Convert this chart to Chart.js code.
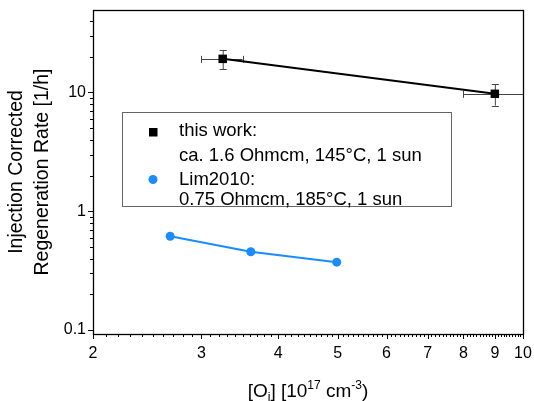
<!DOCTYPE html>
<html>
<head>
<meta charset="utf-8">
<script src="https://cdn.jsdelivr.net/npm/chart.js@4/dist/chart.umd.min.js"></script>
<style>
html,body{margin:0;padding:0;background:#fff;}
#wrap{width:534px;height:401px;position:relative;}
</style>
</head>
<body>
<div id="wrap"><canvas id="c"></canvas></div>
<script>
// ---- data ----
const thisWorkX = [3.25, 9.0];
const thisWorkY = [19.2, 9.75];
const thisWorkXErr = [0.25, 1.0];
const thisWorkYErr = [3.5, 2.0];
const limX = [2.67, 3.61, 4.98];
const limY = [0.616, 0.456, 0.373];
const xTickLabels = [2, 3, 4, 5, 6, 7, 8, 9, 10];
const yTickLabels = [0.1, 1, 10];
const legendLines = ['this work:', 'ca. 1.6 Ohmcm, 145°C, 1 sun', 'Lim2010:', '0.75 Ohmcm, 185°C, 1 sun'];
const yTitleLines = ['Injection Corrected', 'Regeneration Rate [1/h]'];
const xTitleParts = [['[O', 0], ['i', -1], ['] [10', 0], ['17', 1], [' cm', 0], ['-3', 1], [')', 0]];

const FONT = '"Liberation Sans", Arial, sans-serif';
const BLUE = '#1a8cff';

function near(v, list) { return list.some(t => Math.abs(v - t) / t < 1e-6); }
function zeroPad(s) { s.paddingTop = 0; s.paddingBottom = 0; s.paddingLeft = 0; s.paddingRight = 0; }

const decor = {
  id: 'decor',
  beforeDatasetsDraw(chart) {
    const ctx = chart.ctx, xs = chart.scales.x, ys = chart.scales.y;
    ctx.save();
    ctx.strokeStyle = '#444';
    ctx.lineWidth = 1;
    for (let i = 0; i < thisWorkX.length; i++) {
      const px = xs.getPixelForValue(thisWorkX[i]);
      const py = ys.getPixelForValue(thisWorkY[i]);
      const y1 = ys.getPixelForValue(thisWorkY[i] + thisWorkYErr[i]);
      const y2 = ys.getPixelForValue(thisWorkY[i] - thisWorkYErr[i]);
      const x1 = xs.getPixelForValue(thisWorkX[i] - thisWorkXErr[i]);
      const x2 = xs.getPixelForValue(thisWorkX[i] + thisWorkXErr[i]);
      ctx.beginPath();
      ctx.moveTo(px + 0.5, y1); ctx.lineTo(px + 0.5, y2);
      ctx.moveTo(px - 3, Math.round(y1) + 0.5); ctx.lineTo(px + 4, Math.round(y1) + 0.5);
      ctx.moveTo(px - 3, Math.round(y2) + 0.5); ctx.lineTo(px + 4, Math.round(y2) + 0.5);
      ctx.moveTo(x1, Math.round(py) + 0.5); ctx.lineTo(x2, Math.round(py) + 0.5);
      ctx.moveTo(Math.round(x1) + 0.5, py - 3); ctx.lineTo(Math.round(x1) + 0.5, py + 4);
      ctx.moveTo(Math.round(x2) + 0.5, py - 3); ctx.lineTo(Math.round(x2) + 0.5, py + 4);
      ctx.stroke();
    }
    ctx.restore();
  },
  afterDraw(chart) {
    const ctx = chart.ctx, xs = chart.scales.x, ys = chart.scales.y;
    const a = chart.chartArea;
    ctx.save();
    // frame
    ctx.strokeStyle = '#000';
    ctx.lineWidth = 1.3;
    ctx.strokeRect(Math.round(a.left) + 0.5, Math.round(a.top) + 0.5, Math.round(a.right - a.left), Math.round(a.bottom - a.top));
    // x ticks
    ctx.lineWidth = 1;
    ctx.beginPath();
    const by = Math.round(a.bottom);
    for (let k = 20; k <= 100; k++) {
      const v = k / 10;
      const px = Math.round(xs.getPixelForValue(v)) + 0.5;
      const len = (k % 10 === 0) ? 5 : 3;
      ctx.moveTo(px, by); ctx.lineTo(px, by + len);
    }
    // y ticks
    const lx = Math.round(a.left);
    for (let d = -2; d <= 1; d++) {
      const dec = Math.pow(10, d);
      for (let m = 1; m <= 9; m++) {
        const v = m * dec;
        if (v < ys.min || v > ys.max) continue;
        const py = Math.round(ys.getPixelForValue(v)) + 0.5;
        const len = m === 1 ? 5 : 3;
        ctx.moveTo(lx, py); ctx.lineTo(lx - len, py);
      }
    }
    ctx.stroke();

    // legend
    ctx.strokeStyle = '#666';
    ctx.lineWidth = 1;
    ctx.fillStyle = '#fff';
    ctx.fillRect(122.5, 112.5, 329, 94);
    ctx.strokeRect(122.5, 112.5, 329, 94);
    ctx.fillStyle = '#000';
    ctx.fillRect(149, 128, 8.5, 8.5);
    ctx.fillStyle = BLUE;
    ctx.beginPath(); ctx.arc(153, 179.5, 4.5, 0, Math.PI * 2); ctx.fill();
    ctx.fillStyle = '#000';
    ctx.font = '18.5px ' + FONT;
    ctx.textAlign = 'left';
    ctx.textBaseline = 'alphabetic';
    const baselines = [136, 161, 185, 205];
    legendLines.forEach((t, i) => ctx.fillText(t, 179, baselines[i]));

    // y title
    ctx.font = '19.5px ' + FONT;
    ctx.textAlign = 'center';
    const cy = (a.top + a.bottom) / 2;
    [21.5, 47.5].forEach((bx, i) => {
      ctx.save();
      ctx.translate(bx, cy);
      ctx.rotate(-Math.PI / 2);
      ctx.fillText(yTitleLines[i], 0, 0);
      ctx.restore();
    });

    // x title
    ctx.textAlign = 'left';
    const big = '19px ' + FONT, small = '12px ' + FONT;
    let total = 0;
    xTitleParts.forEach(([t, s]) => { ctx.font = s ? small : big; total += ctx.measureText(t).width; });
    let x = (a.left + a.right) / 2 - total / 2;
    const base = 396.5;
    xTitleParts.forEach(([t, s]) => {
      ctx.font = s ? small : big;
      const yy = s === 1 ? base - 8 : (s === -1 ? base + 4 : base);
      ctx.fillText(t, x, yy);
      x += ctx.measureText(t).width;
    });
    ctx.restore();
  }
};

new Chart(document.getElementById('c'), {
  type: 'scatter',
  data: {
    datasets: [
      {
        label: 'this work',
        data: thisWorkX.map((v, i) => ({ x: v, y: thisWorkY[i] })),
        showLine: true,
        borderColor: '#000',
        backgroundColor: '#000',
        borderWidth: 2,
        pointStyle: 'rect',
        pointRadius: 6,
        pointBorderWidth: 0,
        pointHoverRadius: 6
      },
      {
        label: 'Lim2010',
        data: limX.map((v, i) => ({ x: v, y: limY[i] })),
        showLine: true,
        borderColor: BLUE,
        backgroundColor: BLUE,
        borderWidth: 2,
        pointStyle: 'circle',
        pointRadius: 4.5,
        pointBorderWidth: 0,
        pointHoverRadius: 4.5
      }
    ]
  },
  options: {
    responsive: true,
    maintainAspectRatio: false,
    animation: false,
    events: [],
    layout: { padding: { top: 10, right: 11, left: 0, bottom: 0 } },
    plugins: { legend: { display: false }, tooltip: { enabled: false } },
    scales: {
      x: {
        type: 'logarithmic',
        position: 'bottom',
        min: 2,
        max: 10,
        afterFit(s) { s.height = 67; zeroPad(s); },
        grid: { display: false, drawTicks: false },
        border: { display: false },
        ticks: {
          autoSkip: false,
          maxRotation: 0,
          padding: 10,
          color: '#000',
          font: { family: FONT, size: 16 },
          callback: (v) => near(v, xTickLabels) ? String(Math.round(v)) : ''
        }
      },
      y: {
        type: 'logarithmic',
        position: 'left',
        min: 0.0926,
        max: 49.5,
        afterFit(s) { s.width = 93; zeroPad(s); },
        grid: { display: false, drawTicks: false },
        border: { display: false },
        ticks: {
          autoSkip: false,
          padding: 7,
          color: '#000',
          font: { family: FONT, size: 16 },
          callback: (v) => near(v, yTickLabels) ? String(v) : ''
        }
      }
    }
  },
  plugins: [decor]
});
</script>
</body>
</html>
